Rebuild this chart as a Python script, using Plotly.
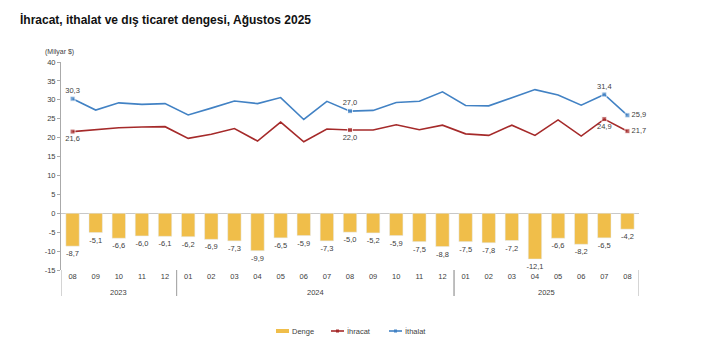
import plotly.graph_objects as go

years = ["2023"] * 5 + ["2024"] * 12 + ["2025"] * 8
months = ["08", "09", "10", "11", "12",
          "01", "02", "03", "04", "05", "06", "07", "08", "09", "10", "11", "12",
          "01", "02", "03", "04", "05", "06", "07", "08"]
ithalat = [30.3, 27.3, 29.2, 28.8, 29.0, 26.0, 27.8, 29.7, 29.0, 30.6, 24.8, 29.6, 27.0,
           27.2, 29.3, 29.6, 32.1, 28.5, 28.4, 30.5, 32.7, 31.3, 28.6, 31.4, 25.9]
ihracat = [21.6, 22.2, 22.6, 22.8, 22.9, 19.8, 20.9, 22.4, 19.1, 24.1, 18.9, 22.3, 22.0,
           22.0, 23.4, 22.1, 23.3, 21.0, 20.6, 23.3, 20.6, 24.7, 20.4, 24.9, 21.7]
denge = [-8.7, -5.1, -6.6, -6.0, -6.1, -6.2, -6.9, -7.3, -9.9, -6.5, -5.9, -7.3, -5.0,
         -5.2, -5.9, -7.5, -8.8, -7.5, -7.8, -7.2, -12.1, -6.6, -8.2, -6.5, -4.2]
labeled = [0, 12, 23, 24]
ytick_vals = [40, 35, 30, 25, 20, 15, 10, 5, 0, -5, -10, -15]
series_names = ["Denge", "İhracat", "İthalat"]

C_BAR = "#F0BE4A"
C_EX = "#A52A2A"
C_IM = "#4282C4"
FONT = "Arial, Liberation Sans, sans-serif"
TXT = "#404040"

def fmt(v):
    return f"{v:.1f}".replace(".", ",")

n = len(months)
xs = list(range(n))

def line_text(vals):
    return [fmt(v) if i in labeled else "" for i, v in enumerate(vals)]

sizes = [5 if i in labeled else 0 for i in range(n)]
pos_im = ["middle right" if i == n - 1 else "top center" for i in range(n)]
pos_ex = ["middle right" if i == n - 1 else "bottom center" for i in range(n)]

fig = go.Figure()
fig.add_trace(go.Bar(
    x=xs, y=denge, name=series_names[0], marker_color=C_BAR,
    text=[fmt(v) for v in denge], textposition="outside", constraintext="none",
    textfont=dict(size=7.5, color=TXT, family=FONT), cliponaxis=False,
))
fig.add_trace(go.Scatter(
    x=xs, y=ihracat, name=series_names[1], mode="lines+markers+text",
    line=dict(color=C_EX, width=1.6),
    marker=dict(symbol="square", size=sizes, color=C_EX),
    text=line_text(ihracat), textposition=pos_ex,
    textfont=dict(size=7.5, color=TXT, family=FONT), cliponaxis=False,
))
fig.add_trace(go.Scatter(
    x=xs, y=ithalat, name=series_names[2], mode="lines+markers+text",
    line=dict(color=C_IM, width=1.6),
    marker=dict(symbol="square", size=sizes, color=C_IM),
    text=line_text(ithalat), textposition=pos_im,
    textfont=dict(size=7.5, color=TXT, family=FONT), cliponaxis=False,
))

# plot area in pixels
L, T, W, H = 61, 62, 578, 208
def px(xp):
    return (xp - L) / W
def py(yp):
    return (T + H - yp) / H

shapes = []
annotations = []
# year group labels and dividers
groups = []
for i, yv in enumerate(years):
    if not groups or groups[-1][0] != yv:
        groups.append([yv, i, i])
    else:
        groups[-1][2] = i
for yv, a, b in groups:
    annotations.append(dict(text=yv, x=(a + b) / 2, xref="x", y=py(292), yref="paper",
                            showarrow=False, xanchor="center", yanchor="middle",
                            font=dict(size=7.5, color=TXT)))
    for edge in (a - 0.5, b + 0.5):
        shapes.append(dict(type="line", xref="x", yref="paper", x0=edge, x1=edge,
                           y0=0, y1=py(296), line=dict(color="#AAAAAA", width=1)))

# custom legend
leg_y = 331
leg = [(276, C_BAR, "bar"), (331, C_EX, "line"), (389, C_IM, "line")]
for (x0, col, kind), name in zip(leg, series_names):
    if kind == "bar":
        shapes.append(dict(type="rect", xref="paper", yref="paper",
                           x0=px(x0), x1=px(x0 + 13), y0=py(leg_y + 2), y1=py(leg_y - 2),
                           fillcolor=col, line=dict(width=0)))
    else:
        shapes.append(dict(type="line", xref="paper", yref="paper",
                           x0=px(x0), x1=px(x0 + 13), y0=py(leg_y), y1=py(leg_y),
                           line=dict(color=col, width=1.6)))
        shapes.append(dict(type="rect", xref="paper", yref="paper",
                           x0=px(x0 + 5), x1=px(x0 + 8), y0=py(leg_y + 1.5), y1=py(leg_y - 1.5),
                           fillcolor=col, line=dict(width=0)))
    annotations.append(dict(text=name, xref="paper", yref="paper", x=px(x0 + 14),
                            y=py(leg_y), xanchor="left", yanchor="middle",
                            showarrow=False, font=dict(size=7.5, color=TXT)))

annotations.append(dict(text="(Milyar $)", xref="paper", yref="paper",
                        x=px(43), y=py(52), xanchor="left", yanchor="middle",
                        showarrow=False, font=dict(size=7, color=TXT)))

fig.update_layout(
    width=708, height=354,
    margin=dict(l=L, r=708 - L - W, t=T, b=354 - T - H),
    paper_bgcolor="white", plot_bgcolor="white",
    font=dict(family=FONT, size=7.5, color=TXT),
    bargap=0.42,
    showlegend=False,
    title=dict(text="<b>İhracat, ithalat ve dış ticaret dengesi, Ağustos 2025</b>",
               x=20 / 708, xref="container", xanchor="left",
               y=1 - 20 / 354, yref="container", yanchor="middle",
               font=dict(size=12, color="#111111", family=FONT)),
    shapes=shapes,
    annotations=annotations,
)
fig.update_xaxes(range=[-0.5, n - 0.5], tickvals=xs, ticktext=months,
                 showline=False, ticks="", showgrid=False, zeroline=False,
                 tickfont=dict(size=7.5, color=TXT))
fig.update_yaxes(range=[-15, 40], tickvals=ytick_vals,
                 ticktext=[str(v) for v in ytick_vals],
                 showgrid=False, showline=True, linecolor="#AAAAAA", linewidth=1,
                 ticks="outside", ticklen=3, tickcolor="#AAAAAA",
                 zeroline=True, zerolinecolor="#C8C8C8", zerolinewidth=1,
                 tickfont=dict(size=7.5, color=TXT))

fig.write_html("out.html")
